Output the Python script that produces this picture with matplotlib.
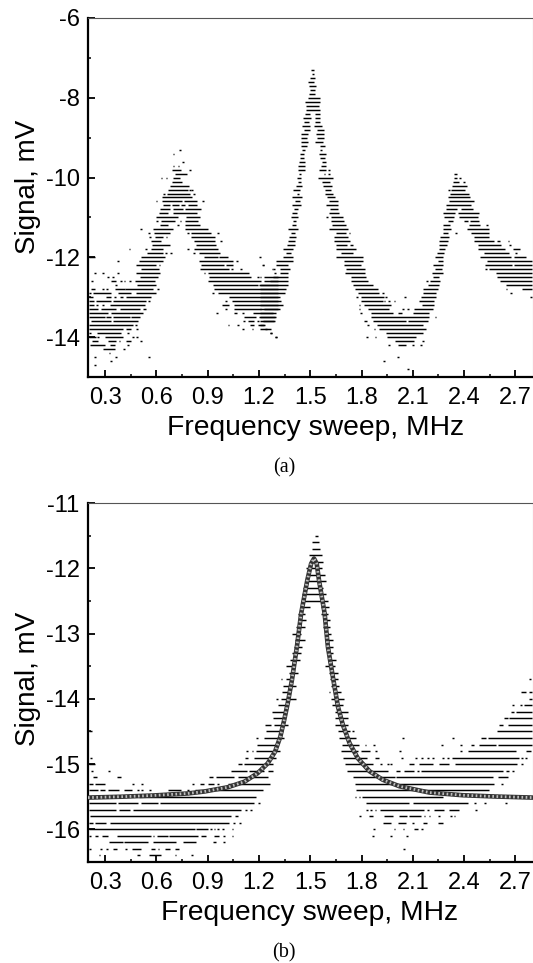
import matplotlib
matplotlib.use('Agg')
import matplotlib.pyplot as plt
from matplotlib.ticker import MultipleLocator, FixedLocator

plt.rcParams['font.family'] = ['Liberation Sans', 'DejaVu Sans']

# Each row is one digitised signal level (mV): (x0, x1) is a run of points, a bare number one point

# panel (a), left resonance
left_peak_a = [
    (-9.3, [.74]), (-9.4, [.70]), (-9.6, [.755]), (-9.7, [.70, .73]), (-9.8, [(.69, .745), .795]),
    (-9.9, [(.71, .78)]), (-10.0, [.63, .66, (.695, .74)]), (-10.1, [(.69, .75)]), (-10.2, [(.68, .79)]),
    (-10.3, [(.67, .785), .795, .81]), (-10.4, [.645, (.665, .795), .82]), (-10.5, [(.63, .81)]),
    (-10.6, [.60, (.635, .75), (.76, .84), .873]),
    (-10.7, [(.638, .677), (.692, .735), (.745, .765), (.785, .84)]),
    (-10.8, [(.62, .677), (.696, .755), (.765, .86)]), (-10.9, [(.615, .667), (.70, .84)]),
    (-11.0, [(.60, .725), (.775, .854)]), (-11.1, [.603, (.628, .706), .741, (.77, .844)]),
    (-11.2, [(.62, .667), .725, (.768, .854)]), (-11.3, [.511, (.58, .696), (.768, .90)]),
    (-11.4, [.556, (.585, .677), .784, (.803, .92), .96]), (-11.5, [.564, (.593, .638), .66, (.80, .94)]),
    (-11.6, [(.566, .628), (.82, .94), .98]), (-11.7, [(.574, .677), (.83, .95)]),
    (-11.8, [.443, .54, (.566, .638), .784, (.82, .96)]),
    (-11.9, [(.546, .638), .657, .686, .82, (.85, .97)]),
]

# panel (a), floor to the left of the middle resonance
low_rows_a = [
    (-12.0, [(.204, .243), (.511, .648), (.877, .959), (.969, 1.017), 1.208]),
    (-12.1, [.375, (.496, .638), (.852, 1.047), 1.072]),
    (-12.2, [(.482, .599), .618, (.862, .998), (1.008, 1.047), 1.227]),
    (-12.3, [(.511, .618), (.858, 1.027), 1.041, 1.095, 1.28]),
    (-12.4, [.239, .288, .375, (.478, .624), .881, (.904, 1.144)]),
    (-12.5, [.317, .346, (.502, .609), (.91, 1.154), 1.196, (1.231, 1.309)]),
    (-12.6, [.223, (.332, .365), .391, .414, .447, (.476, .589), (.901, 1.212), (1.231, 1.309)]),
    (-12.7, [.365, (.488, .599), (.93, 1.192), (1.202, 1.309)]),
    (-12.8, [(.216, .239), .288, .313, (.356, .414), (.418, .579), .609, (.939, 1.309)]),
    (-12.9, [.21, (.229, .336), (.375, .453), (.482, .599), .93, (.959, 1.309)]),
    (-13.0, [(.204, .229), (.307, .336), .356, (.385, .404), (.424, .566), (1.027, 1.309)]),
    (-13.1, [(.204, .235), (.249, .336), (.346, .541), .556, 1.008, (1.041, 1.309)]),
    (-13.2, [(.204, .235), .254, .288, (.326, .531), (.982, 1.027), (1.052, 1.309)]),
    (-13.3, [(.204, .258), (.278, .365), (.385, .502), (.521, .541), 1.008, (1.056, 1.212), (1.231, 1.309)]),
    (-13.4, [(.204, .317), (.336, .521), .955, (1.052, 1.072), 1.105, (1.163, 1.28)]),
    (-13.5, [(.204, .297), (.307, .336), (.346, .443), (.453, .507), (1.115, 1.183), (1.202, 1.30)]),
    (-13.6, [(.216, .336), (.346, .492), 1.111, (1.138, 1.169), 1.196, (1.222, 1.29)]),
    (-13.7, [(.204, .463), .482, 1.021, 1.076, (1.15, 1.169), (1.192, 1.231)]),
    (-13.8, [(.204, .404), (.424, .453), .486, 1.105, 1.163, 1.241]),
    (-13.9, [.21, (.254, .395), .434, 1.27]),
    (-14.0, [(.204, .249), .258, (.297, .404), .463, .488, 1.30]),
    (-14.1, [(.223, .258), (.317, .365), .385, (.424, .453), .511]),
    (-14.2, [(.21, .297), (.326, .356), .434]), (-14.3, [(.288, .356), .41]), (-14.4, [.326]),
    (-14.5, [.239, .365, .556]), (-14.6, [.336]), (-14.7, [.243]),
]

# panel (a), middle resonance
mid_peak_a = [
    (-7.3, [(1.506, 1.522)]), (-7.4, [(1.512, 1.52)]), (-7.5, [(1.5, 1.525)]), (-7.6, [(1.487, 1.52)]),
    (-7.7, [(1.492, 1.531)]), (-7.8, [(1.496, 1.525)]), (-7.9, [(1.49, 1.529)]), (-8.0, [(1.487, 1.555)]),
    (-8.1, [(1.467, 1.555)]), (-8.2, [(1.477, 1.551)]), (-8.3, [(1.473, 1.555)]),
    (-8.4, [(1.467, 1.5), (1.525, 1.555)]), (-8.5, [(1.457, 1.502), (1.525, 1.555)]),
    (-8.6, [(1.463, 1.492), (1.525, 1.555)]), (-8.7, [(1.452, 1.496), (1.522, 1.568)]),
    (-8.8, [(1.461, 1.5), (1.539, 1.578)]), (-8.9, [(1.448, 1.487), (1.535, 1.578)]),
    (-9.0, [(1.444, 1.481), (1.541, 1.578)]), (-9.1, [(1.444, 1.487), (1.525, 1.574)]),
    (-9.2, [(1.448, 1.481), (1.555, 1.584)]), (-9.3, [(1.454, 1.471), (1.555, 1.568)]),
    (-9.4, [(1.442, 1.463), (1.551, 1.594)]), (-9.5, [(1.438, 1.463), (1.559, 1.584)]),
    (-9.6, [(1.434, 1.467), (1.568, 1.594)]), (-9.7, [(1.428, 1.467), (1.564, 1.594)]),
    (-9.8, [(1.428, 1.467), (1.551, 1.594), 1.609]), (-9.9, [1.438, 1.584, 1.609]),
    (-10.0, [(1.422, 1.448), (1.545, 1.633)]), (-10.1, [(1.428, 1.448), (1.57, 1.613)]),
    (-10.2, [(1.418, 1.454), (1.574, 1.629)]), (-10.3, [(1.399, 1.438), (1.584, 1.623)]),
    (-10.4, [1.428, (1.584, 1.633)]), (-10.5, [(1.395, 1.452), (1.598, 1.642)]),
    (-10.6, [(1.409, 1.438), (1.609, 1.662)]), (-10.7, [(1.395, 1.448), (1.594, 1.662)]),
    (-10.8, [(1.403, 1.428), (1.613, 1.662)]), (-10.9, [(1.395, 1.422), (1.609, 1.671)]),
    (-11.0, [(1.389, 1.428), 1.598, (1.623, 1.691)]), (-11.1, [(1.399, 1.418), (1.623, 1.695)]),
    (-11.2, [(1.395, 1.415), (1.629, 1.71)]), (-11.3, [(1.37, 1.428), (1.609, 1.72)]),
    (-11.4, [(1.389, 1.409), (1.652, 1.71), 1.73]), (-11.5, [(1.376, 1.415), (1.636, 1.72)]),
    (-11.6, [(1.37, 1.409), (1.636, 1.73)]), (-11.7, [(1.364, 1.409), (1.648, 1.714), (1.73, 1.749)]),
    (-11.8, [(1.341, 1.399), (1.652, 1.769)]),
]

# panel (a), valley around 2 MHz and the flanks running into it
valley_a = [
    (-11.9, [(1.356, 1.389), (1.681, 1.749)]), (-12.0, [(1.341, 1.399), (1.652, 1.808)]),
    (-12.1, [(1.302, 1.399), (1.70, 1.808)]), (-12.2, [1.224, (1.302, 1.37), (1.70, 1.798)]),
    (-12.3, [1.286, (1.321, 1.38), (1.71, 1.823)]), (-12.4, [1.292, (1.321, 1.37), (1.706, 1.823)]),
    (-12.5, [(1.204, 1.214), (1.282, 1.37), (1.739, 1.827)]), (-12.6, [(1.263, 1.37), (1.739, 1.837)]),
    (-12.7, [(1.204, 1.37), (1.749, 1.866)]), (-12.8, [(1.204, 1.36), (1.759, 1.895)]),
    (-12.9, [(1.204, 1.35), (1.778, 1.901), 1.924]),
    (-13.0, [(1.204, 1.321), 1.773, (1.798, 1.934), 1.944, 2.055]),
    (-13.1, [(1.204, 1.331), (1.798, 1.924), 1.934, 1.959, 1.993, (2.138, 2.226)]),
    (-13.2, [(1.204, 1.341), 1.788, (1.817, 1.973), (2.154, 2.226)]),
    (-13.3, [(1.204, 1.321), 1.788, (1.837, 1.963), 2.041, 2.07, (2.109, 2.216)]),
    (-13.4, [(1.204, 1.302), 1.798, (1.856, 1.983), (2.012, 2.037), (2.1, 2.197)]),
    (-13.5, [(1.204, 1.292), (1.856, 2.197), 2.232]),
    (-13.6, [(1.204, 1.292), (1.812, 1.831), (1.866, 2.061), (2.07, 2.187)]),
    (-13.7, [(1.204, 1.233), 1.837, (1.889, 2.162)]), (-13.8, [(1.204, 1.272), 1.876, (1.905, 2.177)]),
    (-13.9, [1.272, (1.944, 2.158)]), (-14.0, [1.298, 1.831, 1.882, (1.948, 2.119)]),
    (-14.1, [(1.993, 2.109), 2.158]), (-14.2, [1.959, (2.012, 2.061), 2.103, 2.148]),
    (-14.5, [2.012]), (-14.6, [1.93]), (-14.8, [2.07]),
]

# panel (a), right resonance
right_peak_a = [
    (-9.9, [(2.343, 2.356)]), (-10.0, [(2.343, 2.356), (2.368, 2.382)]),
    (-10.1, [(2.337, 2.372), (2.392, 2.407)]), (-10.2, [(2.327, 2.415)]), (-10.3, [2.31, (2.323, 2.407)]),
    (-10.4, [(2.318, 2.43)]), (-10.5, [(2.304, 2.434)]), (-10.6, [(2.314, 2.46)]), (-10.7, [(2.294, 2.44)]),
    (-10.8, [(2.294, 2.356), (2.382, 2.454)]), (-10.9, [(2.279, 2.349), (2.364, 2.489)]),
    (-11.0, [(2.284, 2.343), (2.372, 2.479)]), (-11.1, [(2.304, 2.337), (2.401, 2.421), (2.434, 2.489)]),
    (-11.2, [(2.275, 2.319), (2.426, 2.495), 2.532]), (-11.3, [(2.275, 2.323), (2.415, 2.547)]),
    (-11.4, [(2.279, 2.308), 2.353, (2.44, 2.547)]), (-11.5, [(2.259, 2.31), (2.46, 2.547)]),
    (-11.6, [(2.255, 2.304), (2.456, 2.576), (2.59, 2.609), 2.66]),
    (-11.7, [(2.251, 2.3), (2.479, 2.615), 2.67]), (-11.8, [(2.255, 2.288), (2.479, 2.641), (2.687, 2.726)]),
    (-11.9, [(2.24, 2.284), (2.514, 2.664), 2.703]), (-12.0, [(2.232, 2.279), (2.495, 2.674), (2.693, 2.761)]),
    (-12.1, [(2.246, 2.275), (2.532, 2.796)]), (-12.2, [(2.216, 2.275), (2.524, 2.683), (2.693, 2.796)]),
    (-12.3, [(2.232, 2.271), 2.528, (2.547, 2.796)]), (-12.4, [(2.212, 2.279), (2.586, 2.796)]),
    (-12.5, [(2.216, 2.251), (2.59, 2.796)]), (-12.6, [2.181, (2.201, 2.259), (2.609, 2.796)]),
    (-12.7, [(2.187, 2.255), (2.644, 2.796)]), (-12.8, [(2.158, 2.246), 2.648, (2.738, 2.796)]),
    (-12.9, [(2.162, 2.236), 2.674]), (-13.0, [(2.148, 2.236), 2.79]),
]

# panel (b), central resonance
peak_b = [
    (-11.5, [(1.525, 1.545)]), (-11.6, [(1.512, 1.551)]), (-11.7, [(1.512, 1.558)]), (-11.8, [(1.492, 1.57)]),
    (-11.9, [(1.506, 1.574)]), (-12.0, [(1.477, 1.57)]), (-12.1, [(1.487, 1.584)]), (-12.2, [(1.477, 1.59)]),
    (-12.3, [(1.457, 1.574)]), (-12.4, [(1.453, 1.59)]), (-12.5, [(1.457, 1.603)]),
    (-12.6, [(1.453, 1.496), (1.564, 1.609)]), (-12.7, [(1.428, 1.467), (1.564, 1.603)]),
    (-12.8, [(1.438, 1.477), (1.574, 1.613)]), (-12.9, [(1.418, 1.467), (1.574, 1.617)]),
    (-13.0, [(1.395, 1.448), (1.584, 1.619)]), (-13.1, [(1.409, 1.467), (1.584, 1.632)]),
    (-13.2, [(1.403, 1.453), (1.594, 1.632)]), (-13.3, [(1.393, 1.448), (1.603, 1.632)]),
    (-13.4, [(1.383, 1.438), (1.603, 1.648)]), (-13.5, [(1.36, 1.399), (1.588, 1.642)]),
    (-13.6, [(1.376, 1.428), (1.609, 1.662)]), (-13.7, [1.331, (1.356, 1.389), (1.617, 1.662)]),
    (-13.8, [(1.341, 1.418), (1.623, 1.671)]), (-13.9, [(1.337, 1.376), 1.613, (1.642, 1.681)]),
    (-14.0, [1.305, (1.331, 1.415), (1.623, 1.70)]), (-14.1, [(1.311, 1.36), (1.628, 1.691)]),
    (-14.2, [(1.278, 1.35), (1.642, 1.72)]), (-14.3, [(1.282, 1.341), (1.642, 1.72)]),
]

# panel (b), everything below 1.7 MHz from -14.4 down
left_rows_b = [
    (-14.4, [(1.235, 1.27), (1.29, 1.368)]), (-14.5, [(.204, .223), (1.241, 1.338)]),
    (-14.6, [1.189, (1.231, 1.348)]), (-14.7, [(1.189, 1.309)]), (-14.8, [1.13, 1.163, (1.183, 1.325)]),
    (-14.9, [.216, (1.118, 1.134), (1.169, 1.30)]), (-15.0, [(.204, .243), (1.076, 1.099), (1.115, 1.28)]),
    (-15.1, [.223, .321, (1.037, 1.13), (1.144, 1.231), (1.251, 1.28)]),
    (-15.2, [(.229, .254), (.371, .395), (.91, .93), (.949, 1.056), (1.076, 1.251)]),
    (-15.3, [(.204, .229), (.239, .301), .463, .515, .813, (.858, .881), (.904, .936), .959, (1.017, 1.266)]),
    (-15.4, [(.204, .258), (.268, .297), (.317, .379), (.41, .457), .492, .515, .564, (.667, .745), .784,
             (.823, 1.222)]),
    (-15.5, [(.5, 1.183)]),
    (-15.6, [(.204, .365), (.375, .492), (.511, .609), (.624, 1.173), 1.202]),
    (-15.7, [(.204, .365), (.379, .443), (.463, 1.095), 1.124, 1.154]),
    (-15.8, [(.21, 1.037), (1.06, 1.076)]),
    (-15.9, [(.204, .229), (.239, .307), (.326, 1.027), 1.056, 1.091]),
    (-16.0, [(.204, .823), (.832, .90), .92, .94, .959, .988, 1.045]),
    (-16.1, [.21, (.243, .258), (.282, .317), (.371, .57), .583, (.605, .667), (.673, .846), (.862, .891),
             (.936, .969), .994, 1.045]),
    (-16.2, [(.321, .404), (.41, .55), (.58, .716), (.755, .832), (.93, .949), .994]),
    (-16.3, [.21, .278, .313, (.346, .371), .424, (.459, .511), (.57, .589), .613, (.651, .677), (.71, .735)]),
    (-16.4, [.268, (.488, .502), (.556, .628), .712, .807]),
]

# panel (b), right flank and the rising background
right_rows_b = [
    (-13.7, [2.786]), (-13.9, [(2.732, 2.761), (2.781, 2.798)]), (-14.0, [(2.781, 2.798)]),
    (-14.1, [2.687, 2.732, (2.748, 2.798)]), (-14.2, [(2.674, 2.693), (2.703, 2.798)]),
    (-14.3, [(2.635, 2.654), (2.664, 2.798)]), (-14.4, [(1.642, 1.72), (2.602, 2.625), (2.654, 2.798)]),
    (-14.5, [(1.662, 1.73), 1.749, (2.59, 2.798)]),
    (-14.6, [(1.671, 1.765), 2.041, 2.333, (2.498, 2.528), (2.537, 2.798)]),
    (-14.7, [(1.687, 1.784), 1.823, 1.872, 2.271, 2.382, (2.44, 2.46), (2.489, 2.586), (2.596, 2.798)]),
    (-14.8, [(1.681, 1.779), (1.798, 1.847), 1.885, 2.026, 2.382, (2.421, 2.703), (2.761, 2.79)]),
    (-14.9, [(1.691, 1.831), (1.876, 1.905), 2.037, 2.119, 2.154, 2.187, 2.22, 2.275, 2.304, (2.329, 2.722),
             2.738, 2.761]),
    (-15.0, [(1.701, 1.866), 1.915, 1.954, 1.973, (2.08, 2.109), (2.135, 2.216), (2.251, 2.314),
             (2.349, 2.712), 2.738]),
    (-15.1, [(1.714, 1.954), (2.0, 2.026), (2.051, 2.109), (2.123, 2.138), (2.148, 2.625), (2.645, 2.664), 2.687]),
    (-15.2, [(1.749, 1.993), (2.0, 2.567), (2.596, 2.654)]),
    (-15.3, [(1.759, 2.576), 2.621]), (-15.4, [(1.765, 2.547)]),
    (-15.5, [1.765, 1.788, (1.804, 2.275)]),
    (-15.6, [(1.827, 2.08), (2.1, 2.421), 2.465, 2.524, 2.644]),
    (-15.7, [1.831, 1.856, 1.882, (1.909, 2.168), 2.187, (2.226, 2.284), (2.314, 2.372), 2.469]),
    (-15.8, [1.792, (1.843, 1.866), (1.934, 1.983), (2.022, 2.065), (2.08, 2.148), 2.168, 2.197, 2.255, 2.323, 2.343]),
    (-15.9, [(1.924, 1.973), (2.012, 2.061), 2.1, (2.158, 2.181), (2.245, 2.275)]),
    (-16.0, [1.872, 1.993, 2.045, (2.109, 2.129), 2.154]),
    (-16.1, [1.866, 1.973, 2.067]), (-16.3, [2.047]),
]

# fitted curve of panel (b)
fit_freq = [.2, .395, .589, .784, .881, 1.017, 1.115, 1.192, 1.251, 1.294, 1.325, 1.348, 1.368, 1.393, 1.422,
            1.447, 1.483, 1.505, 1.522, 1.538, 1.551, 1.584, 1.603, 1.632, 1.662, 1.691, 1.73, 1.778, 1.847,
            1.924, 2.022, 2.197, 2.391, 2.586, 2.8]
fit_signal = [-15.513, -15.50, -15.48, -15.45, -15.42, -15.355, -15.27, -15.14, -14.99, -14.81, -14.58, -14.32,
              -14.07, -13.71, -13.2, -12.69, -12.18, -11.93, -11.85, -11.93, -12.18, -12.69, -13.2, -13.66,
              -14.12, -14.4, -14.68, -14.91, -15.11, -15.24, -15.34, -15.436, -15.477, -15.497, -15.513]

freq_ticks = [0.3, 0.6, 0.9, 1.2, 1.5, 1.8, 2.1, 2.4, 2.7]
freq_labels = ['0.3', '0.6', '0.9', '1.2', '1.5', '1.8', '2.1', '2.4', '2.7']

# half width of a lone point on the frequency axis
point_halfwidth = 0.005


def draw_rows(ax, rows):
    for level, items in rows:
        starts = [i[0] if isinstance(i, tuple) else i - point_halfwidth for i in items]
        ends = [i[1] if isinstance(i, tuple) else i + point_halfwidth for i in items]
        ax.hlines([level] * len(items), starts, ends, color='black', linewidth=1.05,
                  capstyle='butt', zorder=2)


def style_axes(ax, ylim, ymajor, caption, xlabel_x, ylabel_y):
    ax.set_xlim(0.2, 2.8)
    ax.set_ylim(*ylim)
    ax.xaxis.set_major_locator(FixedLocator(freq_ticks))
    ax.set_xticklabels(freq_labels)
    ax.xaxis.set_minor_locator(MultipleLocator(0.15))
    ax.yaxis.set_major_locator(MultipleLocator(ymajor))
    ax.yaxis.set_minor_locator(MultipleLocator(ymajor / 2))
    ax.yaxis.set_major_formatter(lambda v, pos: f'{v:.0f}')
    ax.tick_params(which='major', direction='in', length=5, width=1.3, labelsize=17, pad=6,
                   top=False, right=False)
    ax.tick_params(axis='x', which='major', pad=7.5)
    ax.tick_params(which='minor', direction='in', length=2.5, width=1.1, top=False, right=False)
    ax.spines['left'].set_linewidth(1.6)
    ax.spines['bottom'].set_linewidth(1.6)
    ax.spines['top'].set_linewidth(0.8)
    ax.spines['top'].set_color('#555555')
    ax.spines['right'].set_linewidth(0.8)
    ax.spines['right'].set_color('#aaaaaa')
    ax.set_xlabel('Frequency sweep, MHz', fontsize=20.3)
    ax.set_ylabel('Signal, mV', fontsize=20)
    ax.xaxis.set_label_coords(xlabel_x, -0.107)
    ax.yaxis.set_label_coords(-0.105, ylabel_y)
    ax.text(caption[1], -0.252, caption[0], transform=ax.transAxes, ha='center', va='center',
            family=['Liberation Serif', 'DejaVu Serif'], fontsize=14.5)


fig = plt.figure(figsize=(5.33, 9.63), dpi=100)
ax_a = fig.add_axes([88 / 533, 1 - 377 / 963, 444.5 / 533, 359 / 963])
ax_b = fig.add_axes([88 / 533, 1 - 862 / 963, 444.5 / 533, 359 / 963])

for rows in (left_peak_a, low_rows_a, mid_peak_a, valley_a, right_peak_a):
    draw_rows(ax_a, rows)
for rows in (peak_b, left_rows_b, right_rows_b):
    draw_rows(ax_b, rows)

# the fit is a band of overlapping open symbols, dark with light flecks
ax_b.plot(fit_freq, fit_signal, color='#333333', linewidth=3.3, solid_joinstyle='round', zorder=3)
ax_b.plot(fit_freq, fit_signal, color='#bdbdbd', linewidth=2.0, linestyle=(0, (0.6, 0.9)), zorder=4)

style_axes(ax_a, (-15, -6), 2, ('(a)', 0.442), 0.511, 0.53)
style_axes(ax_b, (-16.5, -11), 1, ('(b)', 0.44), 0.498, 0.51)

fig.savefig('out.png', dpi=100)
